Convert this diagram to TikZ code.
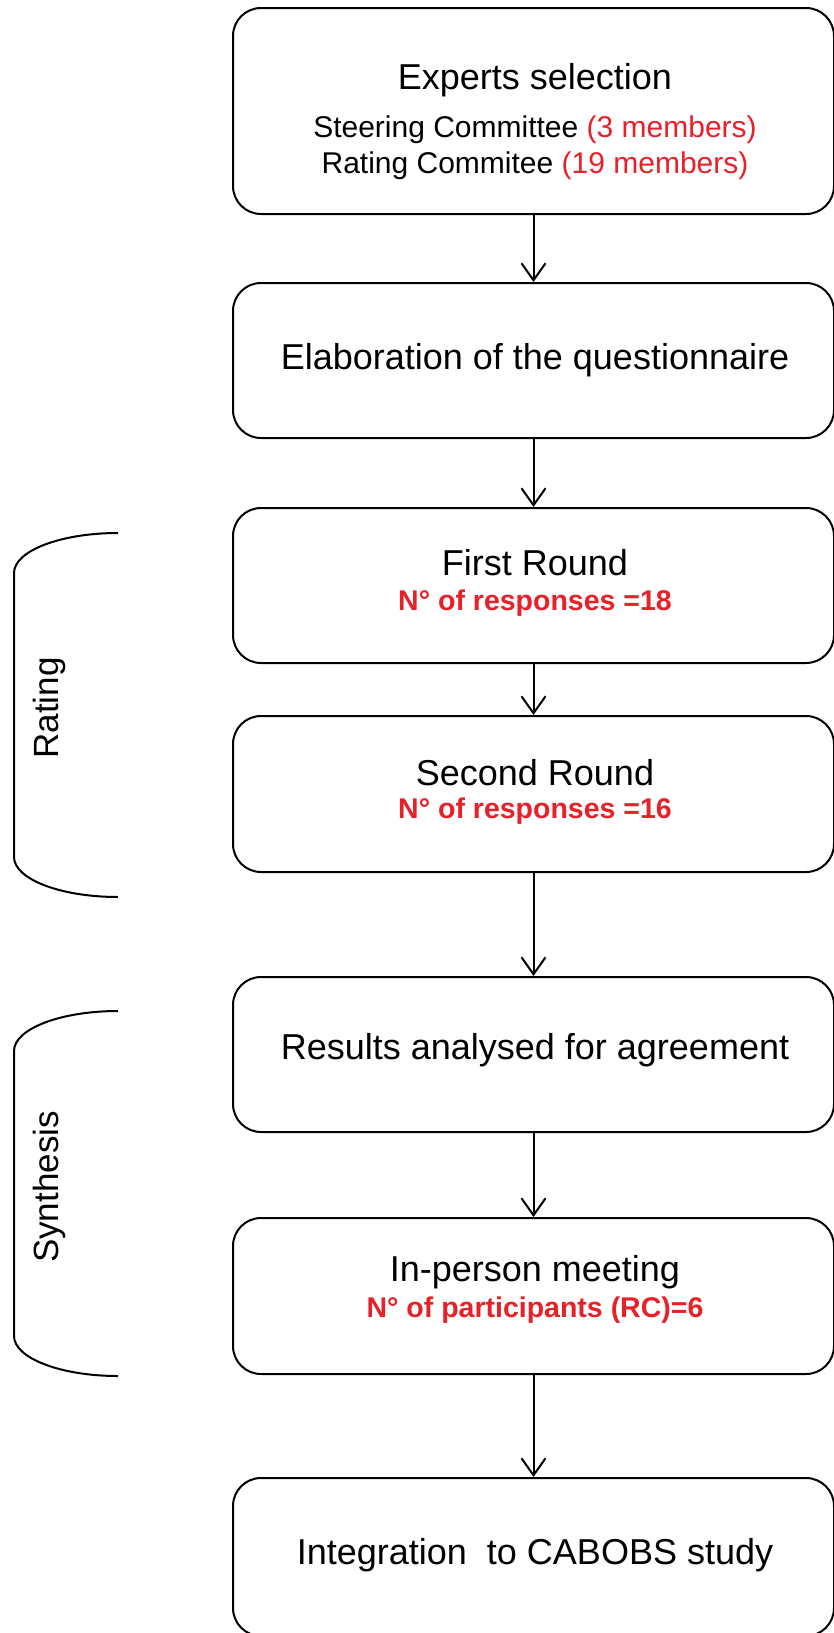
\documentclass[tikz,border=0pt]{standalone}
\usepackage{fontspec}
\setmainfont{Liberation Sans}
\usetikzlibrary{arrows.meta}
\definecolor{redtxt}{RGB}{232,32,40}
\begin{document}
\begin{tikzpicture}[x=1pt,y=-1pt,
  box/.style={draw, line width=2pt, rounded corners=28pt, minimum width=601pt, inner sep=0pt},
  ttl/.style={font=\fontsize{36}{40}\selectfont, inner sep=0pt},
  sub/.style={font=\fontsize{30}{34}\selectfont, inner sep=0pt},
  redsub/.style={font=\fontsize{28.5}{32}\selectfont\bfseries, text=redtxt, inner sep=0pt},
  side/.style={font=\fontsize{35}{40}\selectfont, rotate=90, inner sep=0pt},
  conn/.style={line width=2pt, -{Straight Barb[length=17pt,width=24pt,line width=2pt]}},
  bracket/.style={line width=2pt}]
\useasboundingbox (0,0) rectangle (834,1633);

% boxes
\node[box, minimum height=206pt] (b1) at (533.5,111) {};
\node[box, minimum height=155pt] (b2) at (533.5,360.5) {};
\node[box, minimum height=155pt] (b3) at (533.5,585.5) {};
\node[box, minimum height=156pt] (b4) at (533.5,794) {};
\node[box, minimum height=155pt] (b5) at (533.5,1054.5) {};
\node[box, minimum height=156pt] (b6) at (533.5,1296) {};
\node[box, minimum height=158pt] (b7) at (533.5,1557) {};

% texts
\node[ttl] (t1) at (535,80) {Experts selection};
\node[sub] (s1a) at (535,130) {Steering Committee {\color{redtxt}(3 members)}};
\node[sub] (s1b) at (535,166) {Rating Commitee {\color{redtxt}(19 members)}};
\node[ttl] (t2) at (535,360) {Elaboration of the questionnaire};
\node[ttl] (t3) at (535,563) {First Round};
\node[redsub] (r3) at (535,603) {N° of responses =18};
\node[ttl] (t4) at (535,772.5) {Second Round};
\node[redsub] (r4) at (535,811) {N° of responses =16};
\node[ttl] (t5) at (535,1050.5) {Results analysed for agreement};
\node[ttl] (t6) at (535,1272) {In-person meeting};
\node[redsub] (r6) at (535,1310) {N° of participants (RC)=6};
\node[ttl] (t7) at (535,1555.5) {Integration\ \ to CABOBS study};

% connectors
\draw[conn] (b1.south) -- (b2.north);
\draw[conn] (b2.south) -- (b3.north);
\draw[conn] (b3.south) -- (b4.north);
\draw[conn] (b4.south) -- (b5.north);
\draw[conn] (b5.south) -- (b6.north);
\draw[conn] (b6.south) -- (b7.north);

% side brackets
\draw[bracket] (118,533) .. controls (60.6,533) and (14,550.9) .. (14,573)
  -- (14,857) .. controls (14,879.1) and (60.6,897) .. (118,897);
\draw[bracket] (118,1011) .. controls (60.6,1011) and (14,1028.9) .. (14,1051)
  -- (14,1336) .. controls (14,1358.1) and (60.6,1376) .. (118,1376);
\node[side] (lr) at (49,708) {Rating};
\node[side] (ls) at (49,1187) {Synthesis};
\end{tikzpicture}
\end{document}
